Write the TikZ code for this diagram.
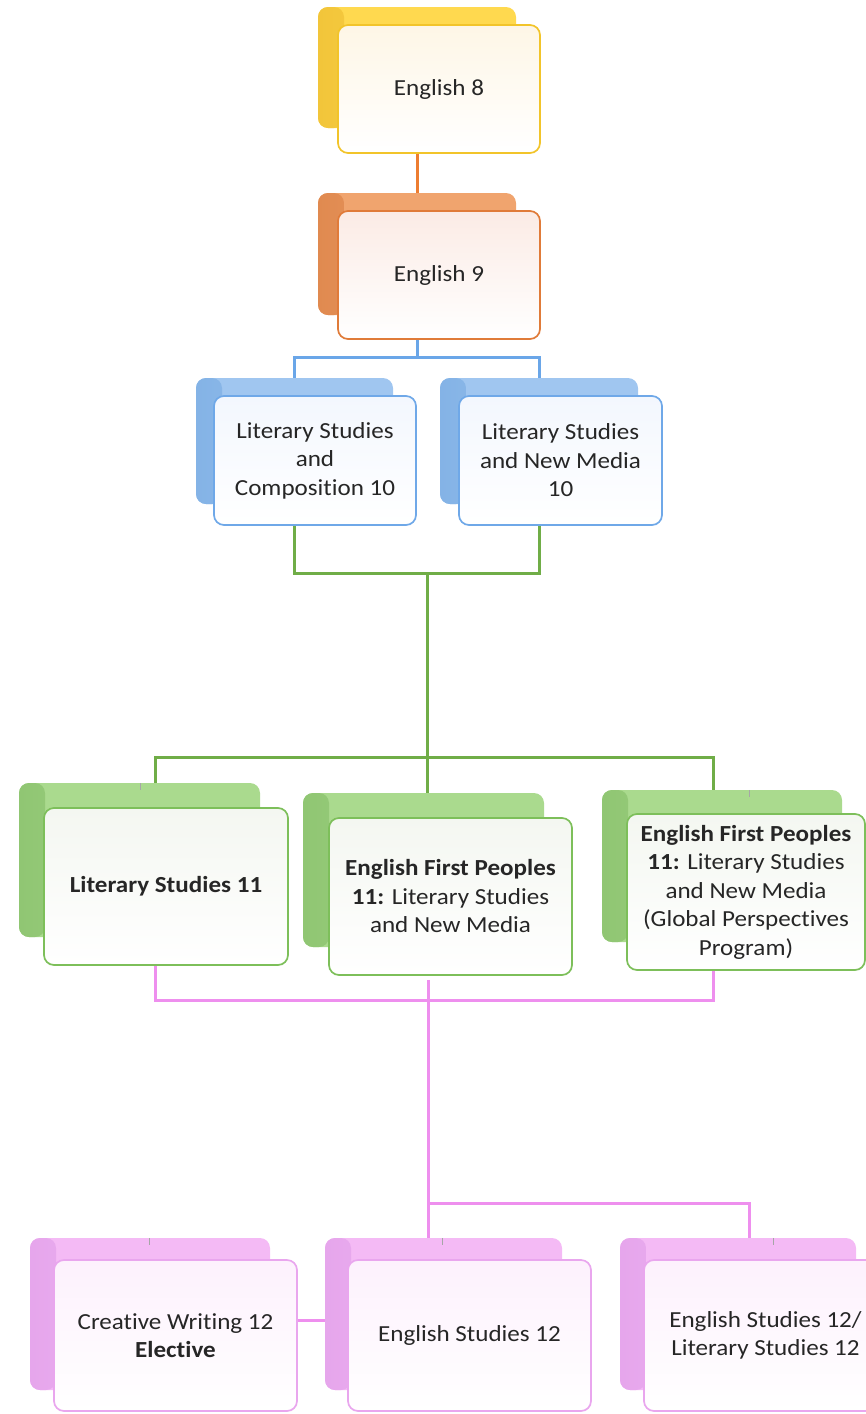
\documentclass[tikz,border=0pt]{standalone}
\usepackage{fontspec}
\setmainfont{Carlito}[FakeStretch=1.09, Ligatures={NoCommon}]
\definecolor{yBase}{HTML}{FFD94F}\definecolor{yDark}{HTML}{F2C53A}
\definecolor{yLine}{HTML}{F2C42A}\definecolor{yFill}{HTML}{FEF6E6}
\definecolor{oBase}{HTML}{F0A46E}\definecolor{oDark}{HTML}{E08A50}
\definecolor{oLine}{HTML}{E07B39}\definecolor{oFill}{HTML}{FBEBE5}\definecolor{oConn}{HTML}{ED7D31}
\definecolor{bBase}{HTML}{A0C6F0}\definecolor{bDark}{HTML}{84B3E6}
\definecolor{bLine}{HTML}{6FA8E8}\definecolor{bFill}{HTML}{F3F7FE}\definecolor{bConn}{HTML}{6AA6E8}
\definecolor{gBase}{HTML}{AADA8E}\definecolor{gDark}{HTML}{90C673}
\definecolor{gLine}{HTML}{7DBF5A}\definecolor{gFill}{HTML}{F4F7F1}\definecolor{gConn}{HTML}{70AD47}
\definecolor{pBase}{HTML}{F4BAF5}\definecolor{pDark}{HTML}{E6A6EC}
\definecolor{pLine}{HTML}{E9A6EE}\definecolor{pFill}{HTML}{FDF1FD}\definecolor{pConn}{HTML}{EE8FEE}
\tikzset{
  backbox/.style 2 args={rounded corners=10pt, inner sep=0pt, fill=#1,
    path picture={
      \shade[left color=#2, right color=#1] (path picture bounding box.north west) rectangle ([xshift=26pt]path picture bounding box.south west);
    }},
  frontbox/.style 2 args={rounded corners=10pt, inner sep=0pt, draw=#1, line width=1.7pt,
    top color=#2, bottom color=white, align=center,
    font=\fontsize{23}{28.5}\selectfont, text=black!85},
  conn/.style={line width=3pt},
  tick/.style={line width=0.6pt, draw=black!35},
}
\begin{document}
\begin{tikzpicture}[x=1pt,y=-1pt]
\useasboundingbox (0,0) rectangle (866,1414);
% English 8
\node[backbox={yBase}{yDark}, minimum width=198pt, minimum height=121pt] (b8) at (417,67.5) {};
\node[frontbox={yLine}{yFill}, minimum width=202pt, minimum height=128pt] (f8) at (439,89) {English 8};
% English 9
\node[backbox={oBase}{oDark}, minimum width=198pt, minimum height=122pt] (b9) at (417,254) {};
\node[frontbox={oLine}{oFill}, minimum width=202pt, minimum height=128pt] (f9) at (439,275) {English 9};
% Grade 10
\node[backbox={bBase}{bDark}, minimum width=197pt, minimum height=126pt] (bL) at (294.5,441) {};
\node[frontbox={bLine}{bFill}, minimum width=202pt, minimum height=129pt] (fL) at (315,460.5) {Literary Studies\\and\\Composition 10};
\node[backbox={bBase}{bDark}, minimum width=198pt, minimum height=126pt] (bR) at (539,441) {};
\node[frontbox={bLine}{bFill}, minimum width=203pt, minimum height=129pt] (fR) at (560.5,460.5) {Literary Studies\\and New Media\\10};
% Grade 11
\node[backbox={gBase}{gDark}, minimum width=241pt, minimum height=154pt] (bgL) at (139.5,860) {};
\node[frontbox={gLine}{gFill}, minimum width=244pt, minimum height=157pt] (fgL) at (166,886.5) {\textbf{Literary Studies 11}};
\node[backbox={gBase}{gDark}, minimum width=241pt, minimum height=154pt] (bgM) at (423.5,870) {};
\node[frontbox={gLine}{gFill}, minimum width=243pt, minimum height=157pt] (fgM) at (450.5,896.5) {\textbf{English First Peoples}\\\textbf{11:} Literary Studies\\and New Media};
\node[backbox={gBase}{gDark}, minimum width=240pt, minimum height=152pt] (bgR) at (722,866) {};
\node[frontbox={gLine}{gFill}, minimum width=238pt, minimum height=156pt] (fgR) at (746,892) {\textbf{English First Peoples}\\\textbf{11:} Literary Studies\\and New Media\\(Global Perspectives\\Program)};
% Grade 12
\node[backbox={pBase}{pDark}, minimum width=240pt, minimum height=152pt] (bpL) at (150,1314) {};
\node[frontbox={pLine}{pFill}, minimum width=243pt, minimum height=151pt] (fpL) at (175.5,1335.5) {Creative Writing 12\\\textbf{Elective}};
\node[backbox={pBase}{pDark}, minimum width=237pt, minimum height=152pt] (bpM) at (443.5,1314) {};
\node[frontbox={pLine}{pFill}, minimum width=243pt, minimum height=151pt] (fpM) at (469.5,1335.5) {English Studies 12};
\node[backbox={pBase}{pDark}, minimum width=236pt, minimum height=152pt] (bpR) at (738,1314) {};
\node[frontbox={pLine}{pFill}, minimum width=243pt, minimum height=151pt] (fpR) at (765.5,1335.5) {English Studies 12/\\Literary Studies 12};
% small ticks on back boxes
\draw[tick] (140,0 |- bgL.north) -- ++(0,7);
\draw[tick] (749,0 |- bgR.north) -- ++(0,7);
\draw[tick] (149,0 |- bpL.north) -- ++(0,7);
\draw[tick] (442,0 |- bpM.north) -- ++(0,7);
\draw[tick] (773,0 |- bpR.north) -- ++(0,7);
% connectors
\draw[conn, oConn] (f8.south -| b8.center) -- (b9.north);
\coordinate (j1) at (417,357);
\draw[conn, bConn] (f9.south -| b9.center) -- (j1);
\draw[conn, bConn] (bL.north) |- (j1) -| (bR.north);
\coordinate (j2) at (427,573);
\coordinate (j3) at (427,757);
\draw[conn, gConn] (fL.south -| bL.center) |- (j2) -| (fR.south -| bR.center);
\draw[conn, gConn] (j2) -- (j3);
\coordinate (gl) at (155,757);
\coordinate (gr) at (713,757);
\draw[conn, gConn] (gl |- bgL.north) -- (gl) -- (gr) -- (gr |- bgR.north);
\draw[conn, gConn] (j3) -- (j3 |- bgM.north);
\coordinate (k1) at (155,1000);
\coordinate (k2) at (713,1000);
\draw[conn, pConn] (k1 |- fgL.south) -- (k1) -- (k2) -- (k2 |- fgR.south);
\coordinate (k3) at (428,1203);
\coordinate (k4) at (749,1203);
\draw[conn, pConn] ([yshift=-4pt]k3 |- fgM.south) -- (k3 |- bpM.north);
\draw[conn, pConn] (k3) -- (k4) -- (k4 |- bpR.north);
\coordinate (k5) at (0,1320);
\draw[conn, pConn] (fpL.east |- k5) -- (bpM.west |- k5);
\end{tikzpicture}
\end{document}
